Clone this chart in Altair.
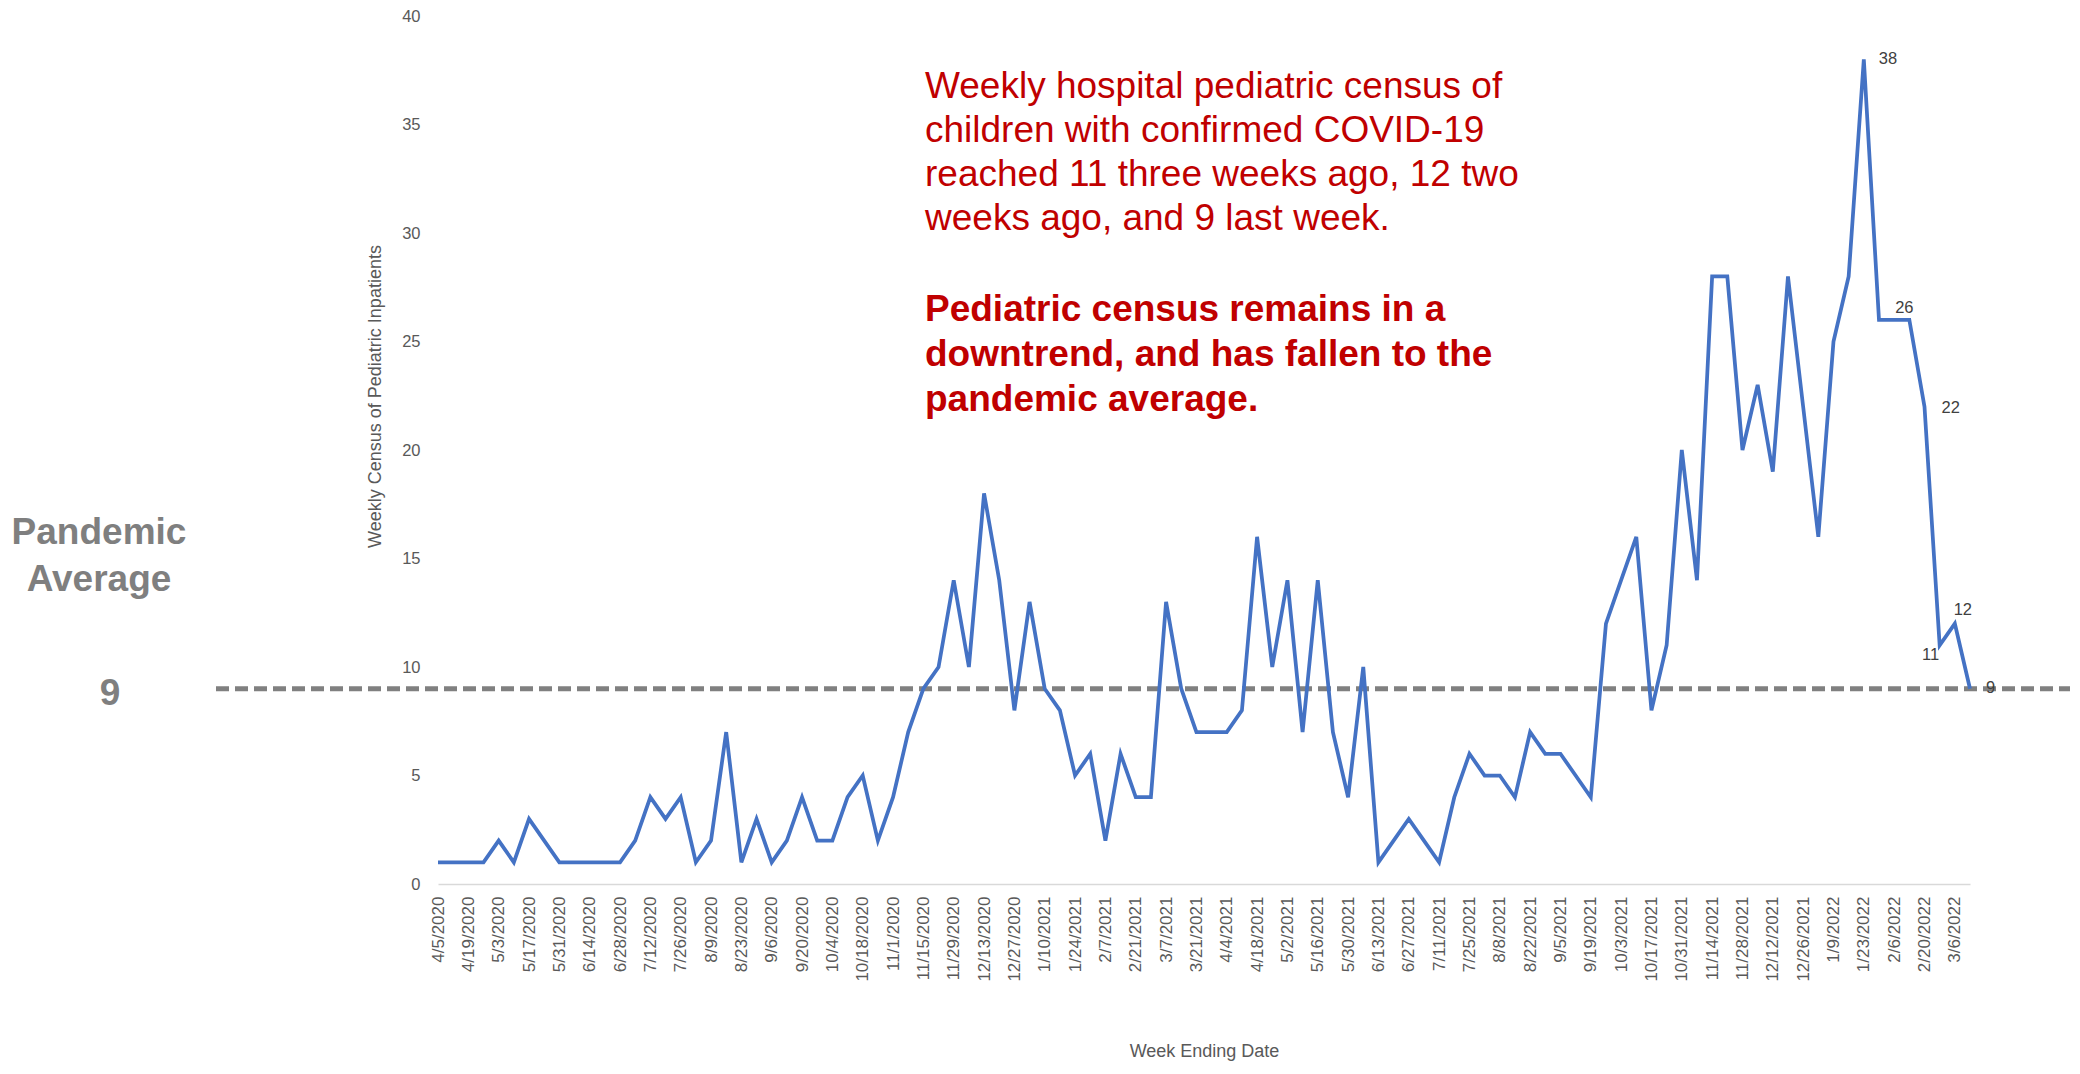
import altair as alt
import pandas as pd

# ---------------- data ----------------
WEEK_START = "2020-04-05"   # first week-ending date, weekly categories follow
CENSUS = [
    1, 1, 1, 1, 2, 1, 3, 2, 1, 1, 1, 1, 1,
    2, 4, 3, 4, 1, 2, 7, 1, 3, 1, 2, 4, 2, 2, 4, 5, 2, 4, 7, 9, 10,
    14, 10, 18, 14, 8, 13, 9, 8, 5, 6, 2, 6, 4, 4, 13, 9, 7, 7, 7, 8, 16, 10,
    14, 7, 14, 7, 4, 10, 1, 2, 3, 2, 1, 4, 6, 5, 5,
    4, 7, 6, 6, 5, 4, 12, 14, 16, 8, 11, 20, 14, 28, 28, 20, 23, 19, 28, 22,
    16, 25, 28, 38, 26, 26, 26, 22, 11, 12, 9,
]
PANDEMIC_AVG = 9
Y_TICKS = [0, 5, 10, 15, 20, 25, 30, 35, 40]
LABEL_WEEKS = [94, 97, 98, 99, 100, 101]   # weeks whose values are labelled

TEXT_REGULAR = [
    "Weekly hospital pediatric census of",
    "children with confirmed COVID-19",
    "reached 11 three weeks ago, 12 two",
    "weeks ago, and 9 last week.",
]
TEXT_BOLD = [
    "Pediatric census remains in a",
    "downtrend, and has fallen to the",
    "pandemic average.",
]
SIDE_TITLE = ["Pandemic", "Average"]

# ---------------- build tables ----------------
dates = pd.date_range(WEEK_START, periods=len(CENSUS), freq="7D")
weeks = [f"{d.month}/{d.day}/{d.year}" for d in dates]
df = pd.DataFrame({"week": weeks, "census": CENSUS})
lab = df.iloc[LABEL_WEEKS].copy()
lab["txt"] = lab["census"].astype(str)
lab["idx"] = LABEL_WEEKS

FONT = "Liberation Sans"
W, H = 1532, 868

x_enc = alt.X(
    "week:N",
    sort=weeks,
    scale=alt.Scale(type="point", padding=0),
    axis=alt.Axis(
        values=weeks[::2],
        labelAngle=-90,
        labelAlign="right",
        labelBaseline="middle",
        labelPadding=12,
        labelOverlap=False,
        labelFontSize=17,
        labelColor="#595959",
        labelFont=FONT,
        ticks=False,
        tickSize=0,
        domain=True,
        domainColor="#D9D9D9",
        domainWidth=1.5,
        grid=False,
        title="Week Ending Date",
        titleFont=FONT,
        titleFontSize=18,
        titleFontWeight="normal",
        titleColor="#595959",
        titleY=167,
        titleBaseline="middle",
    ),
)
y_enc = alt.Y(
    "census:Q",
    scale=alt.Scale(domain=[0, 40], nice=False),
    axis=alt.Axis(
        values=Y_TICKS,
        labelPadding=18,
        labelFontSize=16.5,
        labelColor="#595959",
        labelFont=FONT,
        ticks=False,
        tickSize=0,
        domain=False,
        grid=False,
        title="Weekly Census of Pediatric Inpatients",
        titleFont=FONT,
        titleFontSize=18,
        titleFontWeight="normal",
        titleColor="#595959",
        titleX=-63,
        titleY=380,
        titleBaseline="middle",
    ),
)

base = alt.Chart(df)
line = base.mark_line(color="#4472C4", strokeWidth=3.75).encode(x=x_enc, y=y_enc)

avg_df = pd.DataFrame({"avg": [PANDEMIC_AVG]})
rule = alt.Chart(avg_df).mark_rule(
    color="#808080", strokeWidth=5, strokeDash=[13, 6]
).encode(y=alt.Y("avg:Q"), x=alt.value(-222), x2=alt.value(W + 100))

# data labels, Excel-like placement per point
offsets = {
    94: dict(align="left", dx=15, dy=0),
    97: dict(align="center", dx=-5, dy=-12),
    98: dict(align="left", dx=17, dy=1),
    99: dict(align="center", dx=-9, dy=10),
    100: dict(align="center", dx=8, dy=-14),
    101: dict(align="left", dx=16, dy=-1),
}
label_layers = []
for idx, o in offsets.items():
    label_layers.append(
        alt.Chart(lab[lab["idx"] == idx]).mark_text(
            font=FONT, fontSize=16.5, color="#404040", baseline="middle", **o
        ).encode(x=alt.X("week:N", sort=weeks), y=alt.Y("census:Q"), text="txt:N")
    )

reg = alt.Chart(pd.DataFrame({"t": ["\n".join(TEXT_REGULAR)]})).mark_text(
    font=FONT, fontSize=37, color="#C00000", align="left", baseline="alphabetic",
    lineBreak="\n", lineHeight=44,
).encode(text="t:N", x=alt.value(487), y=alt.value(82))

bold = alt.Chart(pd.DataFrame({"t": ["\n".join(TEXT_BOLD)]})).mark_text(
    font=FONT, fontSize=37, fontWeight="bold", color="#C00000", align="left",
    baseline="alphabetic", lineBreak="\n", lineHeight=45,
).encode(text="t:N", x=alt.value(487), y=alt.value(305))

side = alt.Chart(pd.DataFrame({"t": ["\n".join(SIDE_TITLE)]})).mark_text(
    font=FONT, fontSize=37, fontWeight="bold", color="#7F7F7F", align="center",
    baseline="alphabetic", lineBreak="\n", lineHeight=47,
).encode(text="t:N", x=alt.value(-339), y=alt.value(528))

nine = alt.Chart(pd.DataFrame({"t": [str(PANDEMIC_AVG)]})).mark_text(
    font=FONT, fontSize=37, fontWeight="bold", color="#7F7F7F", align="center",
    baseline="alphabetic",
).encode(text="t:N", x=alt.value(-328), y=alt.value(689))

chart = alt.layer(rule, line, *label_layers, reg, bold, side, nine).properties(
    width=W,
    height=H,
    background="white",
    autosize=alt.AutoSizeParams(type="none"),
    padding={"left": 430, "top": 8, "right": 100, "bottom": 182},
).configure_view(stroke=None, strokeWidth=0)

chart.save("out.html", embed_options={"renderer": "svg", "actions": False})
